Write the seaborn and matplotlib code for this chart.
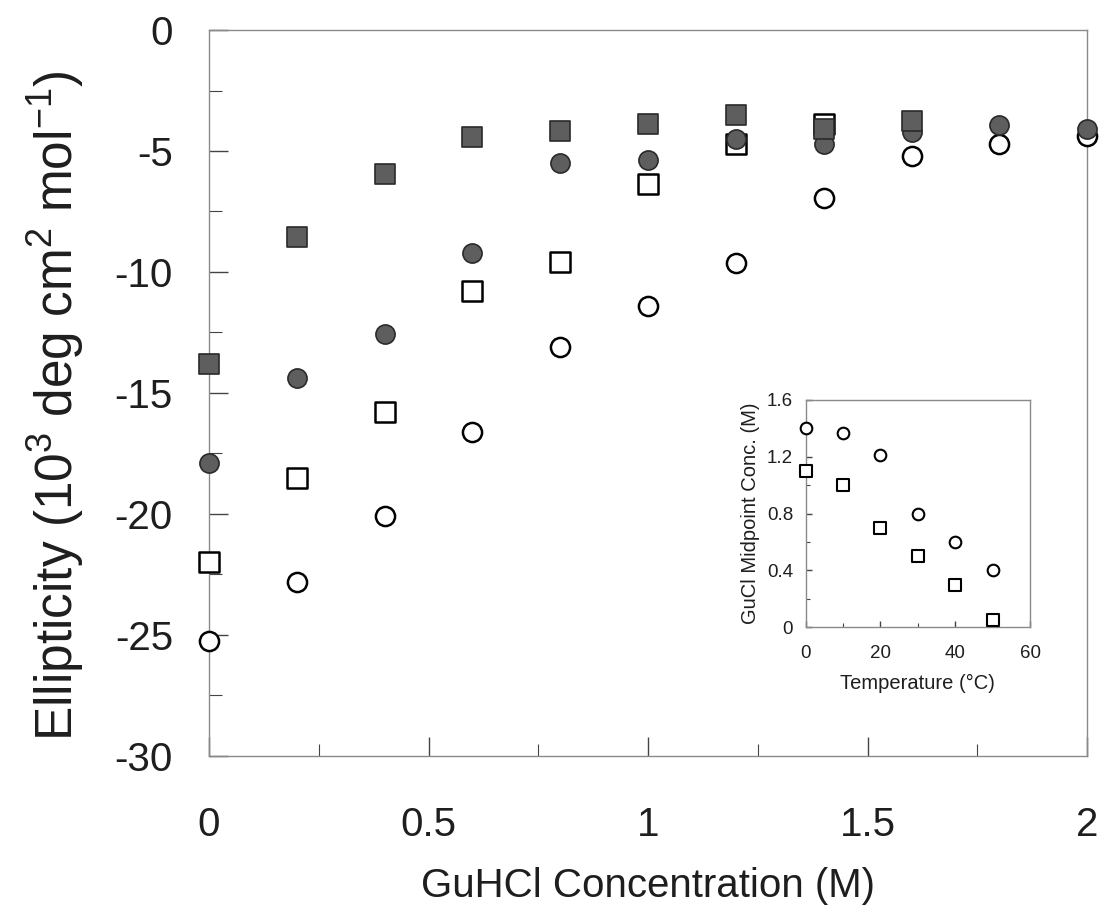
import numpy as np
import pandas as pd
import matplotlib
matplotlib.use("Agg")
import matplotlib.pyplot as plt
from matplotlib.ticker import MultipleLocator
import seaborn as sns

# GuHCl denaturation series (ellipticity in 10^3 deg cm^2 mol^-1)
conc = [0.0, 0.2, 0.4, 0.6, 0.8, 1.0, 1.2, 1.4, 1.6, 1.8, 2.0]
filled_square = [-13.8, -8.57, -5.97, -4.43, -4.19, -3.90, -3.53, -4.08, -3.75]
filled_circle = [-17.9, -14.4, -12.55, -9.2, -5.51, -5.38, -4.5, -4.71, -4.2, -3.92, -4.11]
open_square = [-22.0, -18.5, -15.8, -10.8, -9.58, -6.36, -4.71, -3.87]
open_circle = [-25.25, -22.8, -20.1, -16.6, -13.1, -11.4, -9.61, -6.96, -5.22, -4.71, -4.39]

# Midpoint concentration vs temperature (inset)
temperature = [0, 10, 20, 30, 40, 50]
mid_circle = [1.4, 1.37, 1.21, 0.8, 0.6, 0.4]
mid_square = [1.1, 1.0, 0.7, 0.5, 0.3, 0.05]

x_ticks = [0, 0.5, 1, 1.5, 2]
x_tick_labels = ["0", "0.5", "1", "1.5", "2"]
y_ticks = [-30, -25, -20, -15, -10, -5, 0]
inset_x_ticks = [0, 20, 40, 60]
inset_y_ticks = [0, 0.4, 0.8, 1.2, 1.6]
inset_y_labels = ["0", "0.4", "0.8", "1.2", "1.6"]

sns.set_style("white")
plt.rcParams["font.family"] = ["Liberation Sans", "DejaVu Sans"]
plt.rcParams["mathtext.default"] = "regular"
plt.rcParams["axes.unicode_minus"] = False

TEXT = "#1e1e1e"
SPINE = "#8a8a8a"
FILL = "#5e5e5e"

fig = plt.figure(figsize=(11.06, 9.24), dpi=100)
ax = fig.add_axes([0.189, 0.182, 0.794, 0.7855])


def frame(a, fontsize, major_len, minor_len, xpad, ypad):
    for s in a.spines.values():
        s.set_visible(True)
        s.set_color(SPINE)
        s.set_linewidth(1.0)
    a.tick_params(which="both", direction="in", colors="#444444",
                  labelcolor=TEXT, labelsize=fontsize,
                  bottom=True, left=True, top=False, right=False)
    a.tick_params(which="major", length=major_len, width=1.0)
    a.tick_params(which="minor", length=minor_len, width=0.8)
    a.tick_params(axis="x", which="major", pad=xpad)
    a.tick_params(axis="y", which="major", pad=ypad)


def scatter(a, x, y, marker, face, edge, size, lw):
    df = pd.DataFrame({"x": x[:len(y)], "y": y})
    sns.scatterplot(data=df, x="x", y="y", ax=a, marker=marker, s=size,
                    color=face, edgecolor=edge, linewidth=lw, zorder=3,
                    clip_on=False, legend=False)


scatter(ax, conc, open_circle, "o", "white", "black", 190, 1.8)
scatter(ax, conc, open_square, "s", "white", "black", 190, 1.8)
scatter(ax, conc, filled_circle, "o", FILL, "#2a2a2a", 190, 1.2)
scatter(ax, conc, filled_square, "s", FILL, "#2a2a2a", 190, 1.2)

ax.set_xlim(0, 2)
ax.set_ylim(-30, 0)
ax.set_xticks(x_ticks)
ax.set_xticklabels(x_tick_labels)
ax.set_yticks(y_ticks)
ax.xaxis.set_minor_locator(MultipleLocator(0.25))
ax.yaxis.set_minor_locator(MultipleLocator(2.5))
frame(ax, 29, 14, 9, 36, 26)
ax.set_xlabel("GuHCl Concentration (M)", fontsize=29, color=TEXT, labelpad=17)
ax.set_ylabel(r"Ellipticity (10$^3$ deg cm$^2$ mol$^{-1}$)", fontsize=37,
              color=TEXT)
ax.yaxis.set_label_coords(-0.14, 0.483)

# Inset: GuCl midpoint concentration vs temperature
ins = fig.add_axes([0.7285, 0.3211, 0.2028, 0.246])
scatter(ins, temperature, mid_circle, "o", "white", "black", 70, 1.5)
scatter(ins, temperature, mid_square, "s", "white", "black", 70, 1.5)
ins.set_xlim(0, 60)
ins.set_ylim(0, 1.6)
ins.set_xticks(inset_x_ticks)
ins.set_yticks(inset_y_ticks)
ins.set_yticklabels(inset_y_labels)
ins.xaxis.set_minor_locator(MultipleLocator(10))
ins.yaxis.set_minor_locator(MultipleLocator(0.2))
frame(ins, 13.5, 4, 3, 13, 9)
ins.set_xlabel("Temperature (°C)", fontsize=14.5, color=TEXT, labelpad=8)
ins.set_ylabel("GuCl Midpoint Conc. (M)", fontsize=14.5, color=TEXT, labelpad=5)

fig.savefig("out.png", dpi=100, facecolor="white")
